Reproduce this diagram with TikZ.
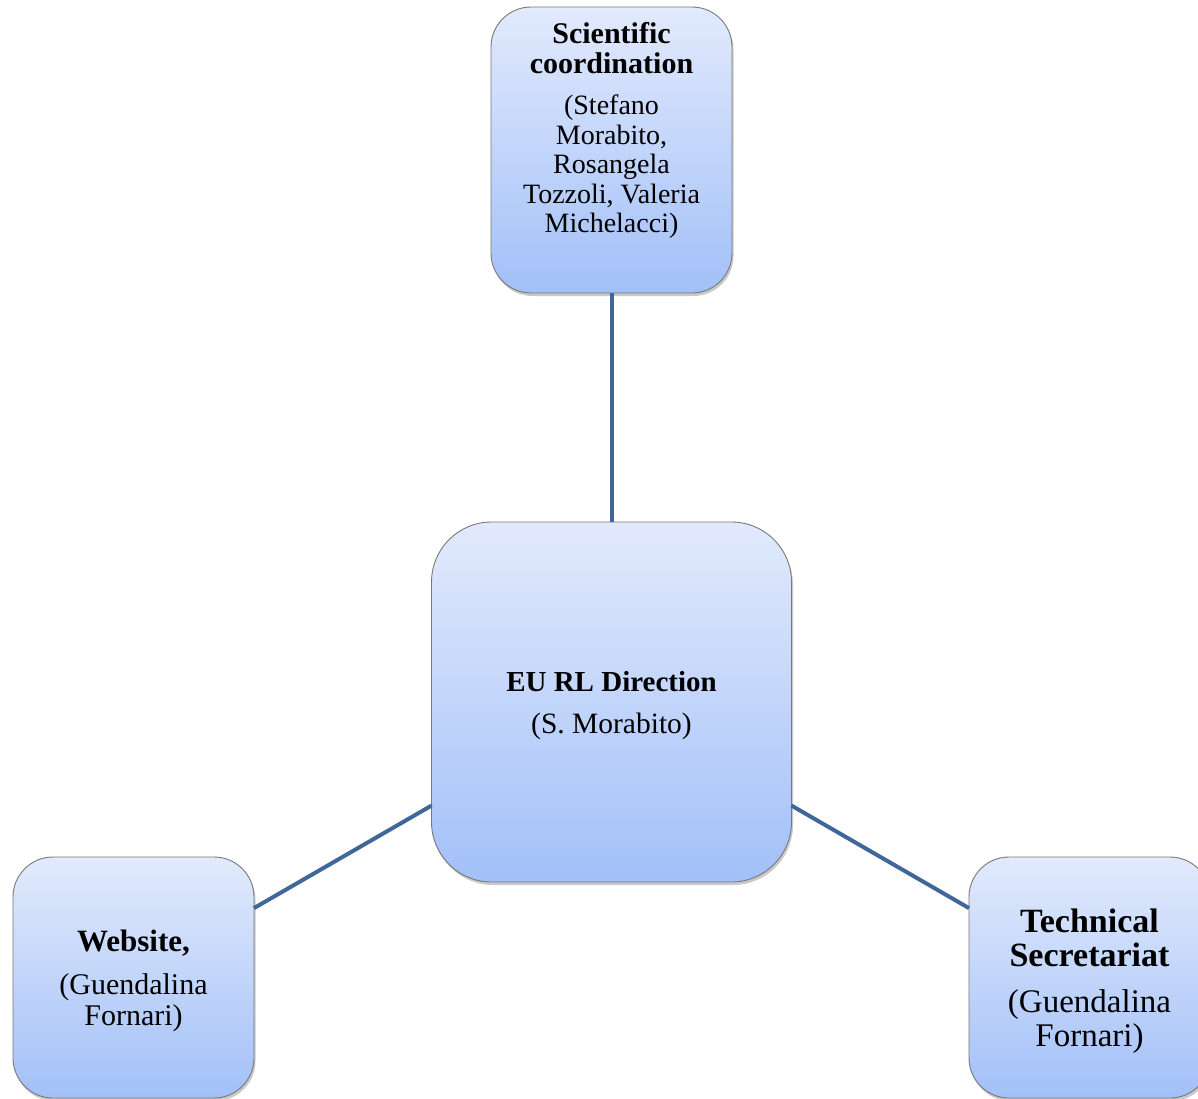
\documentclass[tikz,border=0pt]{standalone}
\usepackage{fontspec}
\setmainfont{Liberation Serif}
\usetikzlibrary{shadows}
\definecolor{boxtop}{RGB}{226,234,252}
\definecolor{boxbot}{RGB}{162,192,248}
\definecolor{boxline}{RGB}{120,120,120}
\definecolor{linkcol}{RGB}{64,103,154}
\begin{document}
\begin{tikzpicture}[x=1pt,y=-1pt,
  orgbox/.style={rectangle, draw=boxline, line width=0.9pt,
    top color=boxtop, bottom color=boxbot, inner sep=0pt, outer sep=0pt,
    drop shadow={shadow xshift=1.5pt, shadow yshift=-3pt, opacity=0.3, fill=black!70}},
  link/.style={draw=linkcol, line width=4pt}]
\useasboundingbox (0,0) rectangle (1198,1098);
\clip (0,0) rectangle (1198,1098);

\node[orgbox, rounded corners=40pt] (t) at (611.5,150) {\parbox[c][286pt][t]{241pt}{\centering
  \vspace*{15.5pt}
  \fontsize{30}{30}\selectfont\bfseries Scientific\\coordination\par
  \vspace{11.5pt}
  \fontsize{28}{29.5}\selectfont\mdseries (Stefano\\Morabito,\\Rosangela\\Tozzoli, Valeria\\Michelacci)\par}};

\node[orgbox, rounded corners=60pt] (c) at (611.5,702) {\parbox[c][360pt][c]{360pt}{\centering
  \vspace*{8pt}
  \fontsize{29}{29}\selectfont\bfseries EU RL Direction\par
  \vspace{12pt}
  \fontsize{29.5}{30}\selectfont\mdseries (S. Morabito)\par}};

\node[orgbox, rounded corners=40pt] (l) at (133.5,977.5) {\parbox[c][241pt][c]{241pt}{\centering
  \vspace*{7pt}
  \fontsize{31}{31}\selectfont\bfseries Website,\par
  \vspace{12pt}
  \fontsize{30}{31}\selectfont\mdseries (Guendalina\\Fornari)\par}};

\node[orgbox, rounded corners=40pt] (r) at (1089.5,977.5) {\parbox[c][241pt][c]{241pt}{\centering
  \vspace*{8pt}
  \fontsize{34}{34}\selectfont\bfseries Technical\\Secretariat\par
  \vspace{12pt}
  \fontsize{33}{34}\selectfont\mdseries (Guendalina\\Fornari)\par}};

\draw[link] (t.south) -- (c.north);
\draw[link] (c) -- (l);
\draw[link] (c) -- (r);
\end{tikzpicture}
\end{document}
